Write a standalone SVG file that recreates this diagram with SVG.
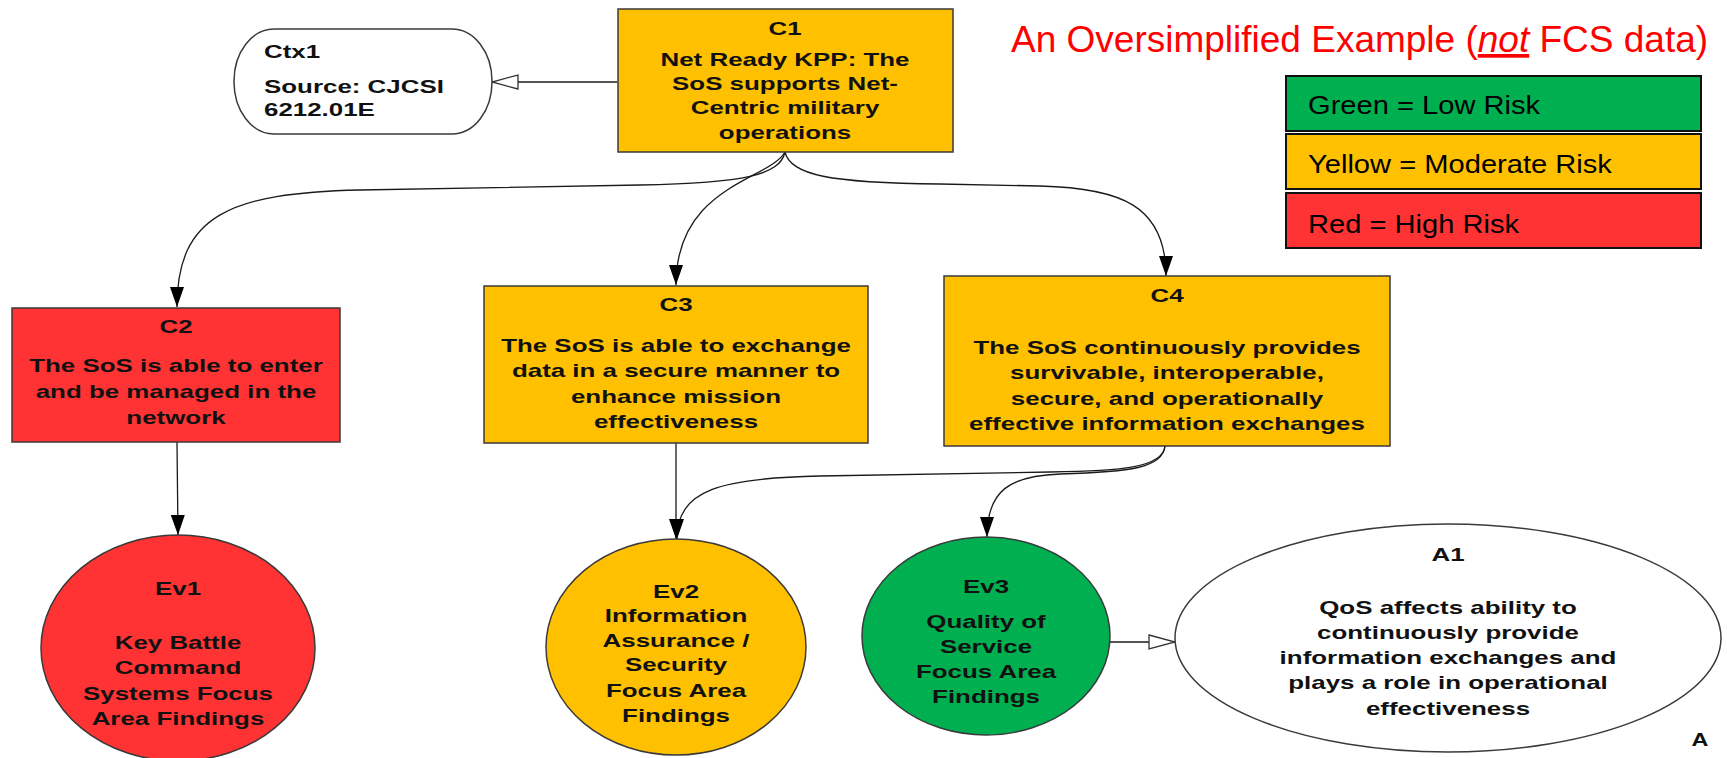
<svg xmlns="http://www.w3.org/2000/svg" width="1727" height="758" viewBox="0 0 1727 758">
<style>
.n{font-family:"Liberation Sans",Arial,sans-serif;font-weight:bold;font-size:18px;text-anchor:middle;fill:#111}
.l{font-family:"Liberation Sans",Arial,sans-serif;font-weight:bold;font-size:18px;text-anchor:start;fill:#111}
.box{stroke:#3a3a3a;stroke-width:1.5}
.y{fill:#FFC000}.r{fill:#FF3333}.g{fill:#00B050}.w{fill:#fff}
.leg{stroke:#111;stroke-width:2}
.lt{font-family:"Liberation Sans",Arial,sans-serif;font-size:26px;fill:#000}
.c{fill:none;stroke:#1a1a1a;stroke-width:1.3}
</style>
<defs>
<marker id="af" markerUnits="userSpaceOnUse" markerWidth="22" markerHeight="16" refX="20" refY="7" orient="auto" overflow="visible"><path d="M0,0 L20,7 L0,14 z" fill="#000"/></marker>
<marker id="ah" markerUnits="userSpaceOnUse" markerWidth="30" markerHeight="18" refX="27" refY="8" orient="auto" overflow="visible"><path d="M1,1 L27,8 L1,15 z" fill="#fff" stroke="#333" stroke-width="1.3"/></marker>
</defs>
<rect width="1727" height="758" fill="#fff"/>

<g id="title">
<text x="1011" y="52" font-family="Liberation Sans, Arial, sans-serif" font-size="37" fill="#FF0000">An Oversimplified Example (<tspan font-style="italic" text-decoration="underline">not</tspan> FCS data)</text>
</g>

<g id="legend">
<rect class="leg g" x="1286" y="76" width="415" height="55"/>
<rect class="leg y" x="1286" y="134" width="415" height="55"/>
<rect class="leg r" x="1286" y="193" width="415" height="55"/>
<text class="lt" transform="translate(1308,114) scale(1.12,1)">Green = Low Risk</text>
<text class="lt" transform="translate(1308,173) scale(1.12,1)">Yellow = Moderate Risk</text>
<text class="lt" transform="translate(1308,233) scale(1.12,1)">Red = High Risk</text>
</g>

<g id="connectors">
<path class="c" d="M617,82 L492,82" stroke="#555" stroke-width="2.4" marker-end="url(#ah)"/>
<path class="c" d="M785,152 C780,175 745,183 640,185 L360,190 C230,193 177,215 177,307" marker-end="url(#af)"/>
<path class="c" d="M785,152 C770,180 676,185 676,285" marker-end="url(#af)"/>
<path class="c" d="M785,152 C790,175 830,183 940,184 L1040,186 C1120,188 1166,205 1166,276" marker-end="url(#af)"/>
<path class="c" d="M177,442 L178,535" marker-end="url(#af)"/>
<path class="c" d="M676,443 L676,539" marker-end="url(#af)"/>
<path class="c" d="M1165,446 C1163,468 1120,471 1050,472 L820,476 C720,478 677,490 677,539" marker-end="url(#af)"/>
<path class="c" d="M1165,446 C1163,468 1130,472 1060,474 C1010,476 987,490 987,537" marker-end="url(#af)"/>
<path class="c" d="M1110,642 L1175,642" stroke="#444" marker-end="url(#ah)"/>
</g>

<g id="Ctx1">
<rect class="box w" x="234" y="29" width="258" height="105" rx="40" ry="52"/>
<g transform="translate(264,0) scale(1.44,1)">
<text class="l" y="58">Ctx1</text>
<text class="l" y="93">Source: CJCSI</text>
<text class="l" y="116">6212.01E</text>
</g>
</g>

<g id="C1">
<rect class="box y" x="618" y="9" width="335" height="143"/>
<g transform="translate(785,0) scale(1.44,1)">
<text class="n" y="35">C1</text>
<text class="n" y="66.5">Net Ready KPP: The</text>
<text class="n" y="90">SoS supports Net-</text>
<text class="n" y="114.5">Centric military</text>
<text class="n" y="139">operations</text>
</g>
</g>

<g id="C2">
<rect class="box r" x="12" y="308" width="328" height="134"/>
<g transform="translate(176,0) scale(1.44,1)">
<text class="n" y="333">C2</text>
<text class="n" y="372">The SoS is able to enter</text>
<text class="n" y="398">and be managed in the</text>
<text class="n" y="424">network</text>
</g>
</g>

<g id="C3">
<rect class="box y" x="484" y="286" width="384" height="157"/>
<g transform="translate(676,0) scale(1.44,1)">
<text class="n" y="311">C3</text>
<text class="n" y="352">The SoS is able to exchange</text>
<text class="n" y="377.5">data in a secure manner to</text>
<text class="n" y="403">enhance mission</text>
<text class="n" y="428">effectiveness</text>
</g>
</g>

<g id="C4">
<rect class="box y" x="944" y="276" width="446" height="170"/>
<g transform="translate(1167,0) scale(1.44,1)">
<text class="n" y="302">C4</text>
<text class="n" y="354">The SoS continuously provides</text>
<text class="n" y="379">survivable, interoperable,</text>
<text class="n" y="405">secure, and operationally</text>
<text class="n" y="430">effective information exchanges</text>
</g>
</g>

<g id="Ev1">
<ellipse class="box r" cx="178" cy="648" rx="137" ry="113"/>
<g transform="translate(178,0) scale(1.44,1)">
<text class="n" y="595">Ev1</text>
<text class="n" y="649">Key Battle</text>
<text class="n" y="674">Command</text>
<text class="n" y="700">Systems Focus</text>
<text class="n" y="725">Area Findings</text>
</g>
</g>

<g id="Ev2">
<ellipse class="box y" cx="676" cy="647" rx="130" ry="108"/>
<g transform="translate(676,0) scale(1.44,1)">
<text class="n" y="598">Ev2</text>
<text class="n" y="622">Information</text>
<text class="n" y="647">Assurance /</text>
<text class="n" y="671">Security</text>
<text class="n" y="697">Focus Area</text>
<text class="n" y="722">Findings</text>
</g>
</g>

<g id="Ev3">
<ellipse class="box g" cx="986" cy="636" rx="124" ry="99"/>
<g transform="translate(986,0) scale(1.44,1)">
<text class="n" y="593">Ev3</text>
<text class="n" y="628">Quality of</text>
<text class="n" y="653">Service</text>
<text class="n" y="678">Focus Area</text>
<text class="n" y="703">Findings</text>
</g>
</g>

<g id="A1">
<ellipse class="box w" cx="1448" cy="638" rx="273" ry="114"/>
<g transform="translate(1448,0) scale(1.44,1)">
<text class="n" y="561.5">A1</text>
<text class="n" y="614">QoS affects ability to</text>
<text class="n" y="639">continuously provide</text>
<text class="n" y="664.5">information exchanges and</text>
<text class="n" y="689.5">plays a role in operational</text>
<text class="n" y="715">effectiveness</text>
</g>
</g>

<g id="markA">
<text class="n" transform="translate(1700,746) scale(1.3,1)" font-size="16">A</text>
</g>
</svg>
